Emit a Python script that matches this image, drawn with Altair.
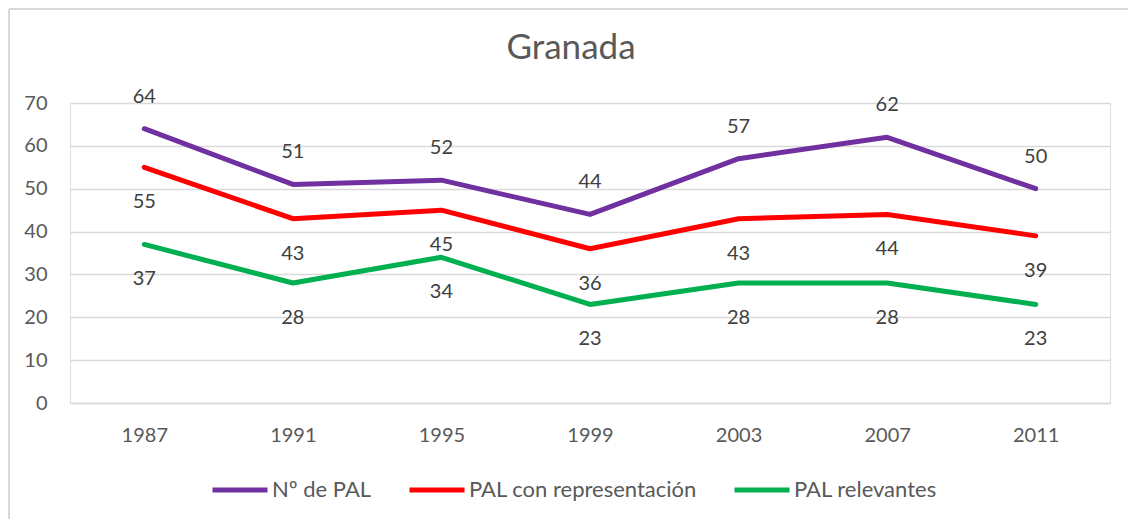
import altair as alt
import pandas as pd

years = ["1987", "1991", "1995", "1999", "2003", "2007", "2011"]
series_names = ["Nº de PAL", "PAL con representación", "PAL relevantes"]
n_pal = [64, 51, 52, 44, 57, 62, 50]
pal_repr = [55, 43, 45, 36, 43, 44, 39]
pal_relev = [37, 28, 34, 23, 28, 28, 23]
colors = ["#7030A0", "#FF0000", "#00B050"]

rows = []
for name, vals in zip(series_names, [n_pal, pal_repr, pal_relev]):
    for y, v in zip(years, vals):
        rows.append({"year": y, "serie": name, "valor": v})
df = pd.DataFrame(rows)

FONT = "Lato"
GRAY = "#D9D9D9"

x_enc = alt.X("year:O", sort=years, scale=alt.Scale(type="point", padding=0.5),
              axis=alt.Axis(title=None, labelAngle=0, ticks=False, domain=True,
                            domainColor=GRAY, domainWidth=1.5, grid=False,
                            labelFontSize=20, labelColor="#595959", labelFont=FONT,
                            labelPadding=22))
y_enc = alt.Y("valor:Q", scale=alt.Scale(domain=[0, 70], nice=False),
              axis=alt.Axis(title=None, values=[0, 10, 20, 30, 40, 50, 60, 70],
                            ticks=False, domain=False, grid=True, gridColor=GRAY,
                            gridWidth=1.5, labelFontSize=20, labelColor="#595959",
                            labelFont=FONT, labelPadding=23))

color_enc = alt.Color("serie:N", scale=alt.Scale(domain=series_names, range=colors),
                      legend=alt.Legend(title=None, orient="none", direction="horizontal",
                                        legendX=140, legendY=357,
                                        symbolType="stroke", symbolSize=3025,
                                        symbolStrokeWidth=5, labelFontSize=22,
                                        labelFont=FONT, labelColor="#595959",
                                        labelOffset=2, columnPadding=27, labelLimit=400))

base = alt.Chart(df)

lines = base.mark_line(strokeWidth=5, strokeCap="round", strokeJoin="round").encode(
    x=x_enc, y=y_enc, color=color_enc, order=alt.Order("year:O"))

def labels(name, dy):
    return base.transform_filter(alt.datum.serie == name).mark_text(
        dy=dy, fontSize=20, font=FONT, color="#404040", baseline="middle", align="center"
    ).encode(x=alt.X("year:O", sort=years), y="valor:Q", text="valor:Q")

border_v = alt.Chart(df).mark_rule(color=GRAY, strokeWidth=2).encode(
    x=alt.value(-61), y=alt.value(-94), y2=alt.value(430))
border_h = alt.Chart(df).mark_rule(color=GRAY, strokeWidth=2).encode(
    x=alt.value(-61), x2=alt.value(1070), y=alt.value(-94))

chart = alt.layer(
    border_v, border_h,
    lines,
    labels(series_names[0], -32),
    labels(series_names[1], 35),
    labels(series_names[2], 35),
).properties(
    width=1040, height=300,
    title=alt.TitleParams("Granada", fontSize=35, font=FONT, color="#595959",
                          fontWeight="normal", anchor="middle", dx=-19, offset=-86,
                          baseline="alphabetic"),
    autosize=alt.AutoSizeParams(type="none"),
    padding={"left": 62, "top": 95, "right": 18, "bottom": 116},
).configure_view(stroke=None).configure(background="white")

chart.save("out.html", embed_options={"renderer": "svg", "actions": False})
